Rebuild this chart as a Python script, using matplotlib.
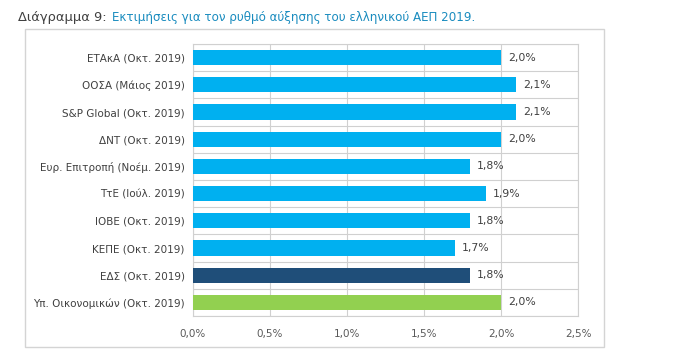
import matplotlib
matplotlib.use("Agg")
import matplotlib.pyplot as plt
from matplotlib.patches import Rectangle

categories = ["ΕΤΑκΑ (Οκτ. 2019)", "ΟΟΣΑ (Μάιος 2019)", "S&P Global (Οκτ. 2019)",
              "ΔΝΤ (Οκτ. 2019)", "Ευρ. Επιτροπή (Νοέμ. 2019)", "ΤτΕ (Ιούλ. 2019)",
              "ΙΟΒΕ (Οκτ. 2019)", "ΚΕΠΕ (Οκτ. 2019)", "ΕΔΣ (Οκτ. 2019)",
              "Υπ. Οικονομικών (Οκτ. 2019)"]
values = [2.0, 2.1, 2.1, 2.0, 1.8, 1.9, 1.8, 1.7, 1.8, 2.0]
value_labels = ["2,0%", "2,1%", "2,1%", "2,0%", "1,8%", "1,9%", "1,8%", "1,7%", "1,8%", "2,0%"]
colors = ["#00B0F0"] * 8 + ["#1F4E79", "#92D050"]
xticks = [0.0, 0.5, 1.0, 1.5, 2.0, 2.5]
xtick_labels = ["0,0%", "0,5%", "1,0%", "1,5%", "2,0%", "2,5%"]

W, H = 680, 353
fig = plt.figure(figsize=(W / 100, H / 100), dpi=100)
fig.patch.set_facecolor("white")

# outer chart box
fig.patches.append(Rectangle((25 / W, 1 - 347 / H), (604 - 25) / W, (347 - 29) / H,
                             transform=fig.transFigure, fill=False,
                             edgecolor="#d4d4d4", linewidth=1.0))

ax = fig.add_axes([193 / W, 1 - 316 / H, (578 - 193) / W, (316 - 44) / H])
n = len(categories)
ypos = list(range(n))
ax.barh(ypos, values, height=0.56, color=colors, zorder=3)
ax.set_ylim(n - 0.5, -0.5)
ax.set_xlim(0, 2.5)
ax.set_xticks(xticks)
ax.set_xticklabels(xtick_labels, fontsize=7.5, color="#595959")
ax.set_yticks(ypos)
ax.set_yticklabels(categories, fontsize=7.5, color="#404040")
ax.tick_params(length=0, pad=6)
ax.tick_params(axis="x", pad=9)
for b in [i + 0.5 for i in range(-1, n)]:
    ax.axhline(b, color="#d0d0d0", linewidth=0.8, zorder=1)
ax.grid(axis="x", color="#d0d0d0", linewidth=0.8, zorder=1)
for s in ax.spines.values():
    s.set_color("#d0d0d0")
    s.set_linewidth(0.8)

for y, v, lab in zip(ypos, values, value_labels):
    ax.annotate(lab, (v, y), xytext=(5, 0), textcoords="offset points",
                ha="left", va="center", fontsize=7.8, color="#404040")

t1 = fig.text(18 / W, 1 - 17 / H, "Διάγραμμα 9:", fontsize=9.4, color="#404040",
              ha="left", va="center")
ax.annotate("Εκτιμήσεις για τον ρυθμό αύξησης του ελληνικού ΑΕΠ 2019.",
            xy=(1, 0.5), xycoords=t1, xytext=(4, 0), textcoords="offset points",
            fontsize=8.6, color="#1A8CBF", ha="left", va="center",
            annotation_clip=False)

fig.savefig("out.png", dpi=100, facecolor="white")
